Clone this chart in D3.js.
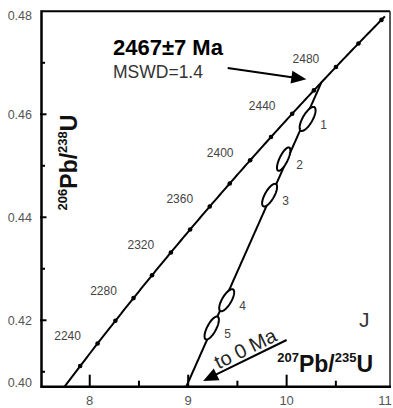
<!doctype html>
<html>
<head>
  <script src="https://cdn.jsdelivr.net/npm/d3@7"></script>
  <style>
    body { margin: 0; background: #fff; }
    text { font-family: Arial, "Liberation Sans", sans-serif; }
  </style>
</head>
<body>
<div id="viz"></div>
<script>
// decay constants (1/yr) for the concordia curve
var lambda238 = 1.55125e-10, lambda235 = 9.8485e-10;

// concordia: span drawn, tick ages, labelled ages (Ma)
var concordiaSpan = [2180, 2523];
var concordiaTicks = [2200, 2220, 2240, 2260, 2280, 2300, 2320, 2340, 2360, 2380, 2400, 2420, 2440, 2460, 2480, 2500, 2520];
var concordiaLabels = [2240, 2280, 2320, 2360, 2400, 2440, 2480];

// discordia: upper intercept age and lower end read at the frame
var upperIntercept = 2467;
var discordiaLowX = 8.98, discordiaLowY = 0.4071;

// analysis spots (207Pb/235U, 206Pb/238U, 2s errors, error correlation)
var spotIds = ["1", "2", "3", "4", "5"];
var spotX   = [10.213, 9.970, 9.827, 9.391, 9.239];
var spotY   = [0.4591, 0.4513, 0.4443, 0.4239, 0.4185];
var spotSx  = [0.081, 0.068, 0.076, 0.076, 0.073];
var spotSy  = [0.00233, 0.00227, 0.00220, 0.00214, 0.00223];
var spotRho = [0.72, 0.74, 0.72, 0.72, 0.72];

// axes
var xTicks = [8, 9, 10, 11];
var xMinor = [8.5, 9.5, 10.5];
var yTicks = [0.4071, 0.42, 0.44, 0.46, 0.48];
var yTickLabels = ["0.40", "0.42", "0.44", "0.46", "0.48"];
var yMinor = [0.41, 0.43, 0.45, 0.47];

// annotation arrows in data units [x0, y0, x1(tip), y1(tip)]
var ageArrow = [9.401, 0.46899, 10.200, 0.4668];
var zeroArrow = [10.0, 0.41617, 9.152, 0.40822];

var W = 393, H = 408;
var x = d3.scaleLinear().domain([7.51, 11.05]).range([41.5, 390]);
var y = d3.scaleLinear().domain([0.4071, 0.48]).range([386.7, 11.3]);

var svg = d3.select("#viz").append("svg")
  .attr("width", W).attr("height", H);

svg.append("clipPath").attr("id", "plotclip")
  .append("rect")
  .attr("x", x.range()[0]).attr("y", y.range()[1])
  .attr("width", x.range()[1] - x.range()[0])
  .attr("height", y.range()[0] - y.range()[1]);

function conc(t) {
  return [Math.exp(lambda235 * t * 1e6) - 1, Math.exp(lambda238 * t * 1e6) - 1];
}

var plot = svg.append("g").attr("clip-path", "url(#plotclip)");

// concordia curve
var ages = d3.range(concordiaSpan[0], concordiaSpan[1], 2).concat([concordiaSpan[1]]);
plot.append("path")
  .datum(ages.map(conc))
  .attr("d", d3.line().x(d => x(d[0])).y(d => y(d[1])))
  .attr("fill", "none").attr("stroke", "#000").attr("stroke-width", 2);

// tick dots on the concordia
plot.selectAll(".ctick").data(concordiaTicks).enter()
  .append("circle")
  .attr("cx", d => x(conc(d)[0])).attr("cy", d => y(conc(d)[1]))
  .attr("r", 2.3).attr("fill", "#000");

// discordia
var up = conc(upperIntercept);
plot.append("line")
  .attr("x1", x(discordiaLowX)).attr("y1", y(discordiaLowY))
  .attr("x2", x(up[0])).attr("y2", y(up[1]))
  .attr("stroke", "#000").attr("stroke-width", 2);

// error ellipses
var theta = d3.range(0, 2 * Math.PI, Math.PI / 40);
spotIds.forEach(function(id, i) {
  var pts = theta.map(function(a) {
    return [spotX[i] + spotSx[i] * Math.cos(a),
            spotY[i] + spotSy[i] * (spotRho[i] * Math.cos(a) + Math.sqrt(1 - spotRho[i] * spotRho[i]) * Math.sin(a))];
  });
  plot.append("path")
    .datum(pts)
    .attr("d", d3.line().x(d => x(d[0])).y(d => y(d[1])).curve(d3.curveLinearClosed))
    .attr("fill", "#fff").attr("stroke", "#000").attr("stroke-width", 2);
  svg.append("text")
    .attr("x", x(spotX[i]) + 16).attr("y", y(spotY[i]) + 10)
    .attr("font-size", 12).attr("fill", "#444").attr("text-anchor", "middle")
    .text(id);
});

// concordia age labels
svg.selectAll(".clab").data(concordiaLabels).enter()
  .append("text")
  .attr("x", d => x(conc(d)[0]) - 30).attr("y", d => y(conc(d)[1]) - 3.5)
  .attr("text-anchor", "middle").attr("font-size", 12).attr("fill", "#444")
  .text(d => d);

// frame
var x0 = x.range()[0], x1 = x.range()[1], y0 = y.range()[0], y1 = y.range()[1];
svg.append("line").attr("x1", x0).attr("x2", x1).attr("y1", y1).attr("y2", y1)
  .attr("stroke", "#000").attr("stroke-width", 2);
svg.append("line").attr("x1", x1).attr("x2", x1).attr("y1", y1).attr("y2", y0)
  .attr("stroke", "#222").attr("stroke-width", 1.5);
svg.append("line").attr("x1", x0).attr("x2", x0).attr("y1", y1 - 1).attr("y2", y0 + 1)
  .attr("stroke", "#000").attr("stroke-width", 2.5);
svg.append("line").attr("x1", x0 - 1).attr("x2", x1 + 1).attr("y1", y0).attr("y2", y0)
  .attr("stroke", "#000").attr("stroke-width", 2.5);

// x ticks (inward)
svg.selectAll(".xt").data(xTicks.filter(d => d < 11)).enter().append("line")
  .attr("x1", d => x(d)).attr("x2", d => x(d)).attr("y1", y0).attr("y2", y0 - 12)
  .attr("stroke", "#000").attr("stroke-width", 2);
svg.selectAll(".xm").data(xMinor).enter().append("line")
  .attr("x1", d => x(d)).attr("x2", d => x(d)).attr("y1", y0).attr("y2", y0 - 6)
  .attr("stroke", "#000").attr("stroke-width", 2);
svg.selectAll(".xl").data(xTicks).enter().append("text")
  .attr("x", d => x(d)).attr("y", 405)
  .attr("text-anchor", "middle").attr("font-size", 13).attr("fill", "#555")
  .text(d => d);

// y ticks (inward)
svg.selectAll(".yt").data(yTicks.slice(1, 4)).enter().append("line")
  .attr("x1", x0 - 1.5).attr("x2", x0 + 5).attr("y1", d => y(d)).attr("y2", d => y(d))
  .attr("stroke", "#000").attr("stroke-width", 2);
svg.selectAll(".ym").data(yMinor).enter().append("line")
  .attr("x1", x0).attr("x2", x0 + 3.5).attr("y1", d => y(d)).attr("y2", d => y(d))
  .attr("stroke", "#000").attr("stroke-width", 2);
svg.selectAll(".yl").data(yTicks).enter().append("text")
  .attr("x", 32).attr("y", (d, i) => y(d) + (i === 0 ? -4 : i === 4 ? 4.5 : 0))
  .attr("dy", "0.35em")
  .attr("text-anchor", "end").attr("font-size", 12.5).attr("fill", "#555")
  .text((d, i) => yTickLabels[i]);

// axis titles
var xt = svg.append("text").attr("x", 373).attr("y", 372)
  .attr("text-anchor", "end").attr("font-weight", "bold").attr("fill", "#111");
xt.append("tspan").attr("font-size", 13).attr("dy", -10).text("207");
xt.append("tspan").attr("font-size", 23).attr("dy", 10).text("Pb/");
xt.append("tspan").attr("font-size", 13).attr("dy", -10).text("235");
xt.append("tspan").attr("font-size", 23).attr("dy", 10).text("U");

var yt = svg.append("text")
  .attr("transform", "translate(77,162.5) rotate(-90)")
  .attr("text-anchor", "middle").attr("font-weight", "bold").attr("fill", "#111");
yt.append("tspan").attr("font-size", 13).attr("dy", -10).text("206");
yt.append("tspan").attr("font-size", 23).attr("dy", 10).text("Pb/");
yt.append("tspan").attr("font-size", 13).attr("dy", -10).text("238");
yt.append("tspan").attr("font-size", 23).attr("dy", 10).text("U");

// arrows
function arrow(a) {
  var ax = x(a[0]), ay = y(a[1]), bx = x(a[2]), by = y(a[3]);
  var L = Math.hypot(bx - ax, by - ay), ux = (bx - ax) / L, uy = (by - ay) / L;
  var hl = 15, hw = 6.5;
  var cx = bx - ux * hl, cy = by - uy * hl;
  svg.append("line").attr("x1", ax).attr("y1", ay).attr("x2", cx + ux * 2).attr("y2", cy + uy * 2)
    .attr("stroke", "#000").attr("stroke-width", 2);
  svg.append("polygon")
    .attr("points", [[bx, by], [cx - uy * hw, cy + ux * hw], [cx + uy * hw, cy - ux * hw]].map(p => p.join(",")).join(" "))
    .attr("fill", "#000");
  return {ax: ax, ay: ay, bx: bx, by: by};
}
arrow(ageArrow);
var za = arrow(zeroArrow);

var ang = Math.atan2(za.ay - za.by, za.ax - za.bx) * 180 / Math.PI;
var mx = za.bx + (za.ax - za.bx) * 0.56, my = za.by + (za.ay - za.by) * 0.56;
svg.append("text")
  .attr("transform", "translate(" + mx + "," + my + ") rotate(" + ang + ")")
  .attr("y", -3.5).attr("text-anchor", "middle")
  .attr("font-size", 20).attr("fill", "#222")
  .text("to 0 Ma");

// result annotation
svg.append("text").attr("x", 113).attr("y", 55)
  .attr("font-size", 22).attr("font-weight", "bold").attr("fill", "#000")
  .text("2467\u00b17 Ma");
svg.append("text").attr("x", 113).attr("y", 78)
  .attr("font-size", 17.5).attr("fill", "#333")
  .text("MSWD=1.4");

// panel letter
svg.append("text").attr("x", 359).attr("y", 327)
  .attr("font-size", 21).attr("fill", "#333")
  .text("J");
</script>
</body>
</html>
